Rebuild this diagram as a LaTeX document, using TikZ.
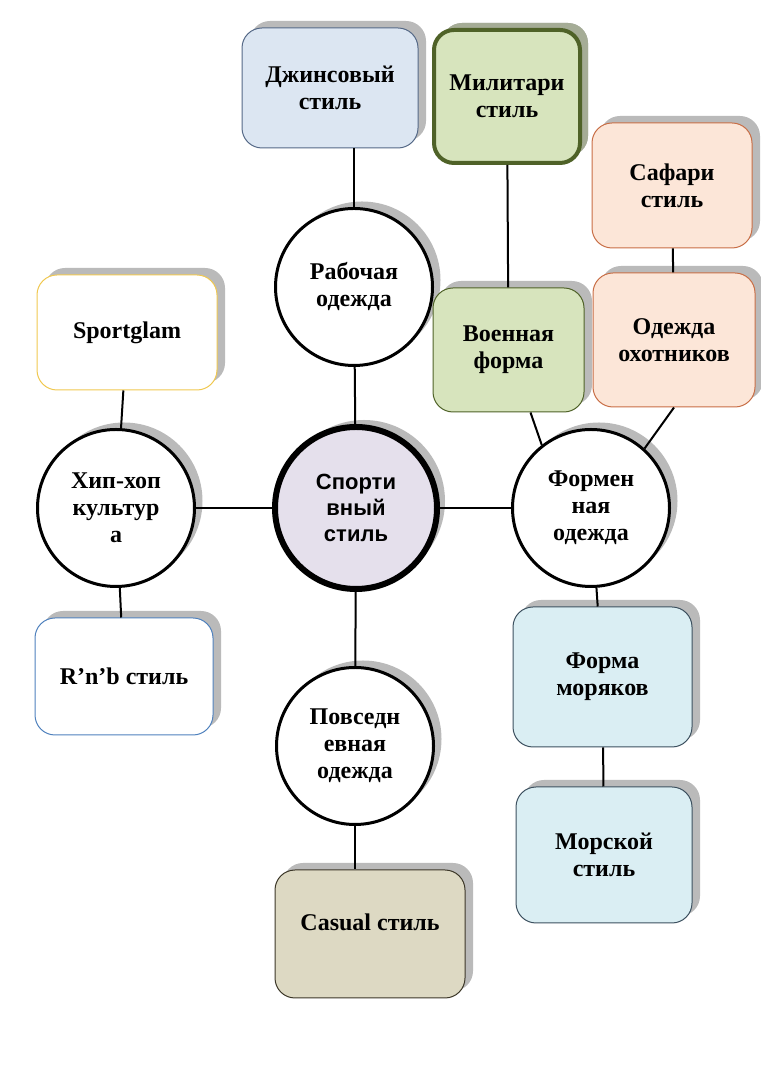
\documentclass[tikz,border=0pt]{standalone}
\usepackage{fontspec}
\setmainfont{Liberation Serif}
\newfontfamily\arialfont{Liberation Sans}
\usetikzlibrary{shadows}
\definecolor{jeansfill}{RGB}{220,230,242}
\definecolor{jeansline}{RGB}{85,105,135}
\definecolor{milfill}{RGB}{215,228,189}
\definecolor{milline}{RGB}{79,98,40}
\definecolor{milshade}{RGB}{165,172,150}
\definecolor{safarifill}{RGB}{252,230,216}
\definecolor{safariline}{RGB}{200,110,70}
\definecolor{seafill}{RGB}{218,238,243}
\definecolor{sealine}{RGB}{60,80,95}
\definecolor{casualfill}{RGB}{221,217,195}
\definecolor{casualline}{RGB}{60,55,40}
\definecolor{sportfill}{RGB}{229,224,236}
\definecolor{glamline}{RGB}{240,200,80}
\definecolor{rnbline}{RGB}{79,129,189}

\begin{document}
\begin{tikzpicture}[x=1pt, y=1pt,
    font=\fontsize{24}{27}\selectfont\bfseries,
    shade/.style={drop shadow={shadow xshift=8pt, shadow yshift=7pt, fill=black!27, opacity=1}},
    box/.style={shade, draw, line width=1pt, rounded corners=20pt, align=center, inner sep=0pt},
    ring/.style={shade, circle, draw, line width=3pt, fill=white, align=center, inner sep=0pt, minimum size=157pt},
    link/.style={line width=2pt}]
    \useasboundingbox (0,0) rectangle (760,1075);

    % circles
    \node [ring, line width=6pt, minimum size=162pt, fill=sportfill, font=\fontsize{22}{26}\selectfont\arialfont\bfseries] (sport) at (356,567) {Спорти\\вный\\стиль};
    \node [ring] (work) at (354,788) {Рабочая\\одежда};
    \node [ring] (hiphop) at (116,567) {Хип-хоп\\культур\\а};
    \node [ring] (uniform) at (591,567) {Формен\\ная\\одежда};
    \node [ring] (everyday) at (355,329) {Повседн\\евная\\одежда};

    % boxes
    \node [box, fill=jeansfill, draw=jeansline, minimum width=176pt, minimum height=120pt] (jeans) at (330,987) {Джинсовый\\стиль};
    \node [box, fill=milfill, draw=milline, line width=4pt, minimum width=146pt, minimum height=133pt,
           drop shadow={shadow xshift=8pt, shadow yshift=7pt, fill=milshade, opacity=1}] (military) at (507,978.5) {Милитари\\стиль};
    \node [box, fill=safarifill, draw=safariline, minimum width=160pt, minimum height=125pt] (safari) at (672,889.5) {Сафари\\стиль};
    \node [box, fill=safarifill, draw=safariline, minimum width=162pt, minimum height=134pt] (hunters) at (674,735) {Одежда\\охотников};
    \node [box, fill=milfill, draw=milline, minimum width=151pt, minimum height=124pt] (army) at (508.5,725) {Военная\\форма};
    \node [box, fill=white, draw=glamline, minimum width=180pt, minimum height=115pt] (glam) at (127,742.5) {Sportglam};
    \node [box, fill=white, draw=rnbline, minimum width=178pt, minimum height=117pt] (rnb) at (124,398.5) {R’n’b стиль};
    \node [box, fill=seafill, draw=sealine, minimum width=179pt, minimum height=140pt] (sailors) at (602.5,398) {Форма\\моряков};
    \node [box, fill=seafill, draw=sealine, minimum width=176pt, minimum height=136pt] (marine) at (604,220) {Морской\\стиль};
    \node [box, fill=casualfill, draw=casualline, minimum width=190pt, minimum height=128pt, text depth=24pt] (casual) at (370,141) {Casual стиль};

    % connectors
    \draw [link] (work) -- (work |- jeans.south);
    \draw [link] (work) -- (sport);
    \draw [link] (sport) -- (hiphop);
    \draw [link] (sport) -- (uniform);
    \draw [link] (sport) -- (everyday);
    \draw [link] (everyday) -- (everyday |- casual.north);
    \draw [link] (hiphop) -- (glam);
    \draw [link] (hiphop) -- (rnb);
    \draw [link] (military) -- (army);
    \draw [link] (safari) -- (hunters);
    \draw [link] ([xshift=22pt]army.south) -- (uniform.128);
    \draw [link] (hunters.south) -- (uniform.48);
    \draw [link] (uniform) -- (sailors);
    \draw [link] (sailors) -- (marine);
\end{tikzpicture}
\end{document}
